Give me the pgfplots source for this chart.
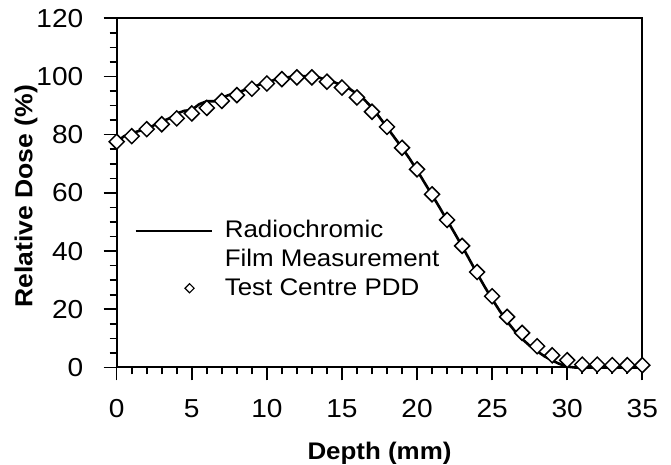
\documentclass[border=0pt]{standalone}
\usepackage{fontspec}
\setmainfont{Liberation Sans}[FakeStretch=1.08]
\usepackage{pgfplots}
\pgfplotsset{compat=1.18}
\begin{document}
\begin{tikzpicture}
\useasboundingbox (-58.35pt,-48.75pt) rectangle (277.15pt,183.75pt);
\begin{axis}[
  at={(0pt,0pt)}, anchor=south west,
  scale only axis, width=262.8pt, height=174.6pt,
  xmin=0, xmax=35, ymin=0, ymax=120,
  xtick={0,5,...,35}, ytick={0,20,...,120},
  minor x tick num=4, minor y tick num=3,
  xtick pos=bottom, ytick pos=left,
  tick align=outside,
  major tick length=6.5pt, minor tick length=3.5pt,
  axis line style={line width=1pt},
  every tick/.style={line width=0.8pt, black},
  clip=false,
  font=\fontsize{12}{14.2}\selectfont,
  xticklabel={\fontsize{13}{15}\selectfont\pgfmathprintnumber[assume math mode=true]{\tick}},
  yticklabel={\fontsize{13}{15}\selectfont\pgfmathprintnumber[assume math mode=true]{\tick}\hspace*{10pt}},
  every tick label/.append style={inner sep=0pt},
  xticklabel shift=9.25pt,
  xlabel={\textbf{Depth (mm)}},
  ylabel={\fontsize{12.3}{14}\selectfont\textbf{Relative Dose (\%)}},
  xlabel style={at={(axis description cs:0.5,0)}, anchor=base, yshift=-46pt},
  ylabel style={at={(axis description cs:-0.1606,0.49)}, anchor=base},
  legend style={at={(axis cs:1.152,52)}, anchor=north west, draw=none, fill=none,
    inner sep=0pt, column sep=4pt, row sep=0.5pt,
    nodes={align=left, font=\fontsize{12}{14.2}\selectfont}},
  legend cell align=left,
]
\addplot[black, line width=1.3pt,
  legend image code/.code={\draw[black, line width=1.2pt] (0pt,7.1pt) -- (38pt,7.1pt);}]
coordinates {
(0,77.6)(0.5,79.5)(1,80.5)(1.5,81.3)(2,82)(2.5,83.3)(3,84.5)(3.5,85.6)(4,87.3)(4.5,88.2)
(5,88.5)(5.5,90.5)(6,91.5)(6.5,91.5)(7,92.7)(7.5,93.7)(8,94.5)(8.5,95.3)(9,96.2)(9.5,97.2)
(10,98)(10.5,98.8)(11,99.4)(11.5,99.8)(12,100)(12.5,100.1)(13,100)(13.5,99.6)(14,98.8)(14.5,98)
(15,97)(15.5,95.8)(16,94)(16.5,92)(17,89.3)(17.5,86)(18,82.5)(18.5,79)(19,75.5)(19.5,71.8)
(20,67.8)(20.5,63.5)(21,59.3)(21.5,55)(22,50.6)(22.5,46.2)(23,41.7)(23.5,37)(24,32.3)(24.5,27.8)
(25,23.5)(25.5,19.5)(26,15.8)(26.5,12.6)(27,9.8)(27.5,7.5)(28,5.6)(28.5,3.8)(29,2.4)(29.5,1.2)
(30,0.3)(30.5,0)(35,0)
};
\addlegendentry{Radiochromic\\Film Measurement}
\addplot[only marks, mark=square*, mark size=2.65pt,
  mark options={fill=white, draw=black, rotate=45, line width=0.75pt},
  legend image code/.code={\draw[mark=square*, mark size=1.6pt, mark options={fill=white, draw=black, rotate=45, line width=0.6pt}] plot coordinates {(27pt,0pt)};}]
coordinates {
(0,77.6)(1,79.5)(2,81.9)(3,83.6)(4,85.6)(5,87.3)(6,89.2)(7,91.6)(8,93.6)(9,95.8)
(10,97.6)(11,99.1)(12,99.7)(13,99.7)(14,98.2)(15,96.2)(16,92.8)(17,87.9)(18,82.7)(19,75.5)
(20,68.1)(21,59.5)(22,50.7)(23,41.8)(24,32.8)(25,24.5)(26,17.4)(27,11.9)(28,7.3)(29,4.2)
(30,2.5)(31,1.0)(32,1.0)(33,0.8)(34,0.8)(35,0.8)
};
\addlegendentry{Test Centre PDD}
\end{axis}
\end{tikzpicture}
\end{document}
